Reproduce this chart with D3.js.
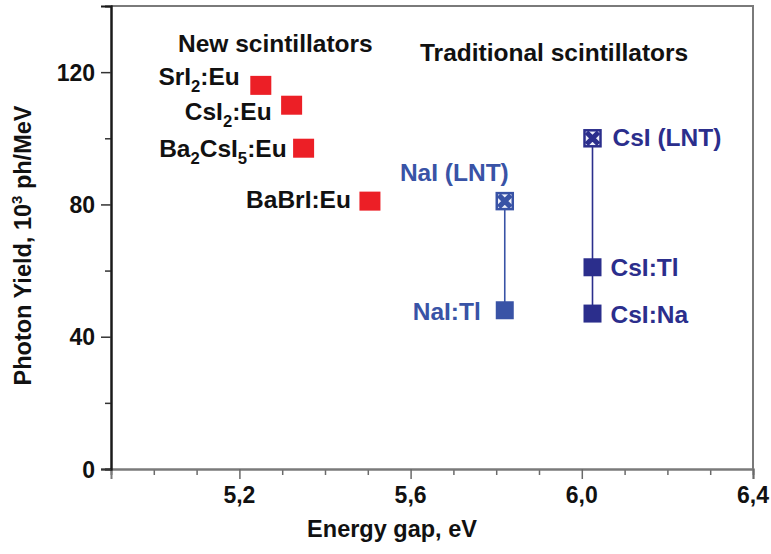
<!DOCTYPE html>
<html>
<head>
<meta charset="utf-8">
<script src="https://cdn.jsdelivr.net/npm/d3@7"></script>
<style>
  html, body { margin: 0; padding: 0; background: #fff; }
  svg { display: block; }
  text { font-family: "Liberation Sans", Arial, sans-serif; font-weight: bold; }
</style>
</head>
<body>
<svg id="chart" width="771" height="554"></svg>
<script>
// Energy gap (eV) vs photon yield (10^3 ph/MeV)

// New scintillators ("_" marks a subscript digit)
const newNames = ["SrI_2:Eu", "CsI_2:Eu", "Ba_2CsI_5:Eu", "BaBrI:Eu"];
const newGap   = [5.25, 5.322, 5.35, 5.505];
const newYield = [116, 110, 97, 81];

// Traditional scintillators
const tradNames = ["NaI (LNT)", "NaI:Tl", "CsI (LNT)", "CsI:Tl", "CsI:Na"];
const tradGap   = [5.82, 5.82, 6.025, 6.025, 6.025];
const tradYield = [81, 48, 100, 61, 47];
const tradKind  = ["lnt", "doped", "lnt", "doped", "doped"];
const tradHost  = ["NaI", "NaI", "CsI", "CsI", "CsI"];

// Axis ticks
const xMajorTicks  = [5.2, 5.6, 6.0, 6.4];
const xTickLabels  = ["5,2", "5,6", "6,0", "6,4"];
const xMinorTicks  = [5.0, 5.1, 5.3, 5.4, 5.5, 5.7, 5.8, 5.9, 6.1, 6.2, 6.3];
const yMajorTicks  = [0, 40, 80, 120];
const yTickLabels  = ["0", "40", "80", "120"];
const yMinorTicks  = [20, 60, 100];

// ---- layout ----
const W = 771, H = 554;
const margin = { left: 111, right: 18, top: 6, bottom: 85 };
const FS = 24.5;          // annotation font size
const RED = "#ec1f26";
const hostColor = { NaI: "#3953a6", CsI: "#2b2e8c" };

// label placement relative to each marker (anchor, dx, dy to baseline)
const newLabelPos = [
  { anchor: "end", dx: -21, dy: 0 },
  { anchor: "end", dx: -20, dy: 15 },
  { anchor: "end", dx: -17, dy: 9 },
  { anchor: "end", dx: -19, dy: 7 }
];
const tradLabelPos = [
  { anchor: "end",   dx: 4,   dy: -20 },
  { anchor: "end",   dx: -24, dy: 10 },
  { anchor: "start", dx: 20,  dy: 8 },
  { anchor: "start", dx: 18,  dy: 9 },
  { anchor: "start", dx: 18,  dy: 9 }
];

const svg = d3.select("#chart");

const x = d3.scaleLinear().domain([4.9, 6.4]).range([margin.left, W - margin.right]);
const y = d3.scaleLinear().domain([0, 140]).range([H - margin.bottom, margin.top]);

const x0 = x.range()[0], x1 = x.range()[1];
const y0 = y.range()[0], y1 = y.range()[1];

// frame (top and right)
svg.append("path")
  .attr("d", `M${x0},${y1}H${x1}V${y0}`)
  .attr("fill", "none").attr("stroke", "#7a7a7a").attr("stroke-width", 2);

// bottom axis: minor + major ticks
const gx = svg.append("g").attr("transform", `translate(0,${y0})`);
gx.append("g").call(d3.axisBottom(x).tickValues(xMinorTicks).tickSize(6).tickFormat(""));
gx.append("g").call(d3.axisBottom(x).tickValues(xMajorTicks).tickSize(10).tickFormat(""));
gx.selectAll(".domain").attr("stroke", "#7a7a7a").attr("stroke-width", 2);
gx.selectAll(".tick line").attr("stroke", "#6a6a6a").attr("stroke-width", 1.5);

// left axis: minor + major ticks
const gy = svg.append("g").attr("transform", `translate(${x0},0)`);
gy.append("g").call(d3.axisLeft(y).tickValues(yMinorTicks).tickSize(6).tickFormat(""));
gy.append("g").call(d3.axisLeft(y).tickValues(yMajorTicks).tickSize(10).tickFormat(""));
gy.selectAll(".domain").attr("stroke", "#1a1a1a").attr("stroke-width", 2);
gy.selectAll(".tick line").attr("stroke", "#333").attr("stroke-width", 1.5);

function addText(parent, px, py, anchor, size, fill) {
  return parent.append("text")
    .attr("transform", `translate(${px},${py})`)
    .attr("text-anchor", anchor)
    .attr("font-size", size)
    .attr("fill", fill);
}

// text with "_" subscripts
function richText(t, s, size) {
  const parts = s.split(/(_\d)/).filter(p => p.length);
  let sub = false;
  parts.forEach(p => {
    if (p[0] === "_") {
      t.append("tspan").attr("font-size", size * 0.68).attr("dy", 7).text(p.slice(1));
      sub = true;
    } else {
      t.append("tspan").attr("dy", sub ? -7 : 0).text(p);
      sub = false;
    }
  });
}

// tick labels
xMajorTicks.forEach((v, i) => {
  addText(svg, x(v), y0 + 34, "middle", 23, "#111").text(xTickLabels[i]);
});
yMajorTicks.forEach((v, i) => {
  addText(svg, x0 - 16, y(v) + 8.5, "end", 23, "#111").text(yTickLabels[i]);
});

// axis titles
addText(svg, 392, 537, "middle", 23.5, "#111").text("Energy gap, eV");
const yt = svg.append("text")
  .attr("transform", `translate(31,${(y0 + y1) / 2 + 8}) rotate(-90)`)
  .attr("text-anchor", "middle").attr("font-size", 23.5).attr("fill", "#111");
yt.append("tspan").text("Photon Yield, 10");
yt.append("tspan").attr("font-size", 15).attr("dy", -9).text("3");
yt.append("tspan").attr("dy", 9).text(" ph/MeV");

// group headings
addText(svg, 178, 52, "start", FS, "#111").text("New scintillators");
addText(svg, 420, 61, "start", FS, "#111").text("Traditional scintillators");

// connectors between host crystal states
const hosts = Array.from(new Set(tradHost));
hosts.forEach(h => {
  const idx = tradHost.map((v, i) => v === h ? i : -1).filter(i => i >= 0);
  const ys = idx.map(i => tradYield[i]);
  svg.append("line")
    .attr("x1", x(tradGap[idx[0]])).attr("x2", x(tradGap[idx[0]]))
    .attr("y1", y(d3.max(ys))).attr("y2", y(d3.min(ys)))
    .attr("stroke", hostColor[h]).attr("stroke-width", 1.6);
});

// new scintillator markers
const rw = 21, rh = 19;
newGap.forEach((g, i) => {
  svg.append("rect")
    .attr("x", x(g) - rw / 2).attr("y", y(newYield[i]) - rh / 2)
    .attr("width", rw).attr("height", rh).attr("fill", RED);
  const lp = newLabelPos[i];
  const t = addText(svg, x(g) + lp.dx, y(newYield[i]) + lp.dy, lp.anchor, FS, "#111");
  richText(t, newNames[i], FS);
});

// traditional scintillator markers
const bs = 18;
tradGap.forEach((g, i) => {
  const cx = x(g), cy = y(tradYield[i]);
  const col = hostColor[tradHost[i]];
  if (tradKind[i] === "doped") {
    svg.append("rect")
      .attr("x", cx - bs / 2).attr("y", cy - bs / 2)
      .attr("width", bs).attr("height", bs).attr("fill", col);
  } else {
    const s = bs / 2 - 1;
    svg.append("rect")
      .attr("x", cx - s).attr("y", cy - s)
      .attr("width", 2 * s).attr("height", 2 * s)
      .attr("fill", "#eef0fa").attr("stroke", col).attr("stroke-width", 2.5);
    svg.append("path")
      .attr("d", `M${cx - s + 2},${cy - s + 2}L${cx + s - 2},${cy + s - 2}M${cx + s - 2},${cy - s + 2}L${cx - s + 2},${cy + s - 2}`)
      .attr("stroke", col).attr("stroke-width", 5).attr("stroke-linecap", "butt");
  }
  const lp = tradLabelPos[i];
  addText(svg, cx + lp.dx, cy + lp.dy, lp.anchor, FS, col).text(tradNames[i]);
});
</script>
</body>
</html>
